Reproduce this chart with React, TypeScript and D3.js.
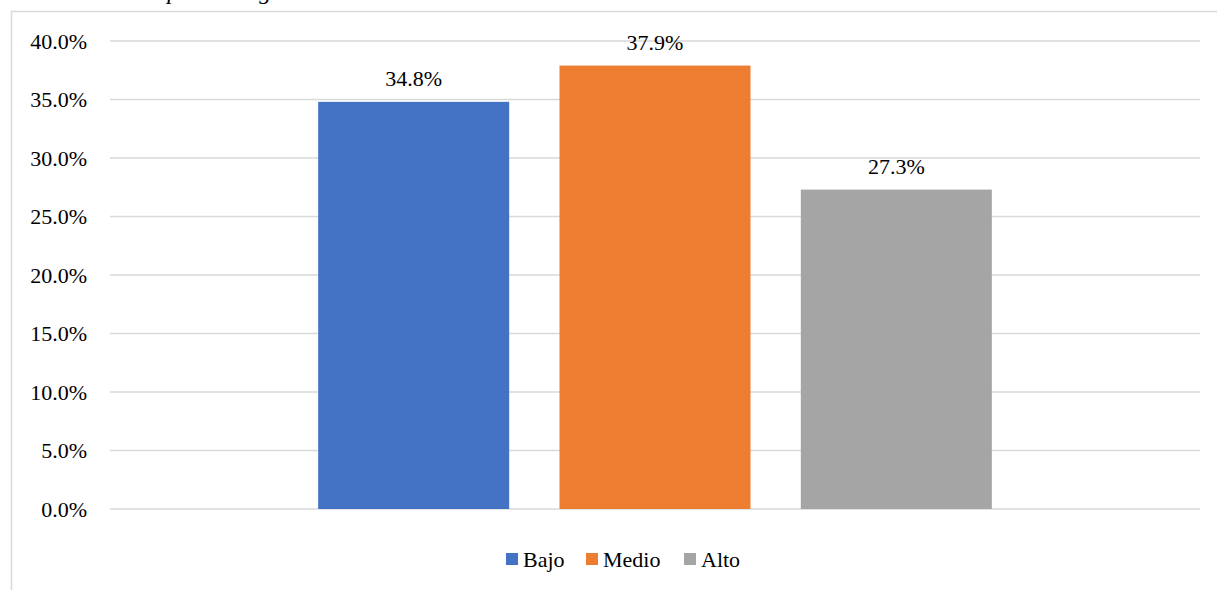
import React from "react";
import * as d3 from "d3";

// Share of respondents per level (%)
const categories = ["Nivel"];
const series = ["Bajo", "Medio", "Alto"];
const values = [34.8, 37.9, 27.3];
const colors = ["#4472C4", "#ED7D31", "#A5A5A5"];
const yTicks = [0, 5, 10, 15, 20, 25, 30, 35, 40];

const W = 1217;
const H = 590;
const plot = { left: 110, right: 1200, top: 41, bottom: 509 };
const font = "'Liberation Serif', 'Times New Roman', serif";

export default function App() {
  const y = d3.scaleLinear().domain([0, 40]).range([plot.bottom, plot.top]);
  const x0 = d3
    .scaleBand<string>()
    .domain(categories)
    .range([plot.left, plot.right])
    .paddingInner(0)
    .paddingOuter(0.2528);
  const x1 = d3
    .scaleBand<string>()
    .domain(series)
    .range([0, x0.bandwidth()])
    .paddingInner(0.2085)
    .paddingOuter(0.10425);
  const fmt = (v: number) => `${v.toFixed(1)}%`;

  const legendItems = [
    { name: "Bajo", x: 506 },
    { name: "Medio", x: 586 },
    { name: "Alto", x: 684 },
  ];

  return (
    <svg
      width={W}
      height={H}
      style={{ position: "absolute", left: 0, top: 0, background: "#fff" }}
      fontFamily={font}
    >
      {/* caption above the chart frame, mostly outside the view */}
      <text x={56} y={-1} fontSize={24} fontStyle="italic" fill="#000">
        Resultados por nivel general
      </text>
      {/* chart area border */}
      <rect x={11.5} y={11.5} width={W} height={H} fill="#fff" stroke="#d9d9d9" strokeWidth={1.5} />

      {/* gridlines and y tick labels */}
      {yTicks.map((t) => (
        <g key={t}>
          <line
            x1={plot.left}
            x2={plot.right}
            y1={y(t)}
            y2={y(t)}
            stroke="#d9d9d9"
            strokeWidth={1.5}
          />
          <text x={87} y={y(t)} dy="0.35em" textAnchor="end" fontSize={22} fill="#000">
            {fmt(t)}
          </text>
        </g>
      ))}

      {/* bars with value labels */}
      {categories.map((c) => (
        <g key={c} transform={`translate(${x0(c)},0)`}>
          {series.map((s, i) => {
            const bx = x1(s)!;
            return (
              <g key={s}>
                <rect
                  x={bx}
                  y={y(values[i])}
                  width={x1.bandwidth()}
                  height={y(0) - y(values[i])}
                  fill={colors[i]}
                />
                <text
                  x={bx + x1.bandwidth() / 2}
                  y={y(values[i]) - 16}
                  textAnchor="middle"
                  fontSize={22}
                  fill="#000"
                >
                  {fmt(values[i])}
                </text>
              </g>
            );
          })}
        </g>
      ))}

      {/* legend */}
      {legendItems.map((d, i) => (
        <g key={d.name}>
          <rect x={d.x} y={553} width={12} height={12} fill={colors[i]} />
          <text x={d.x + 17} y={559} dy="0.35em" fontSize={22} fill="#000">
            {d.name}
          </text>
        </g>
      ))}
    </svg>
  );
}
